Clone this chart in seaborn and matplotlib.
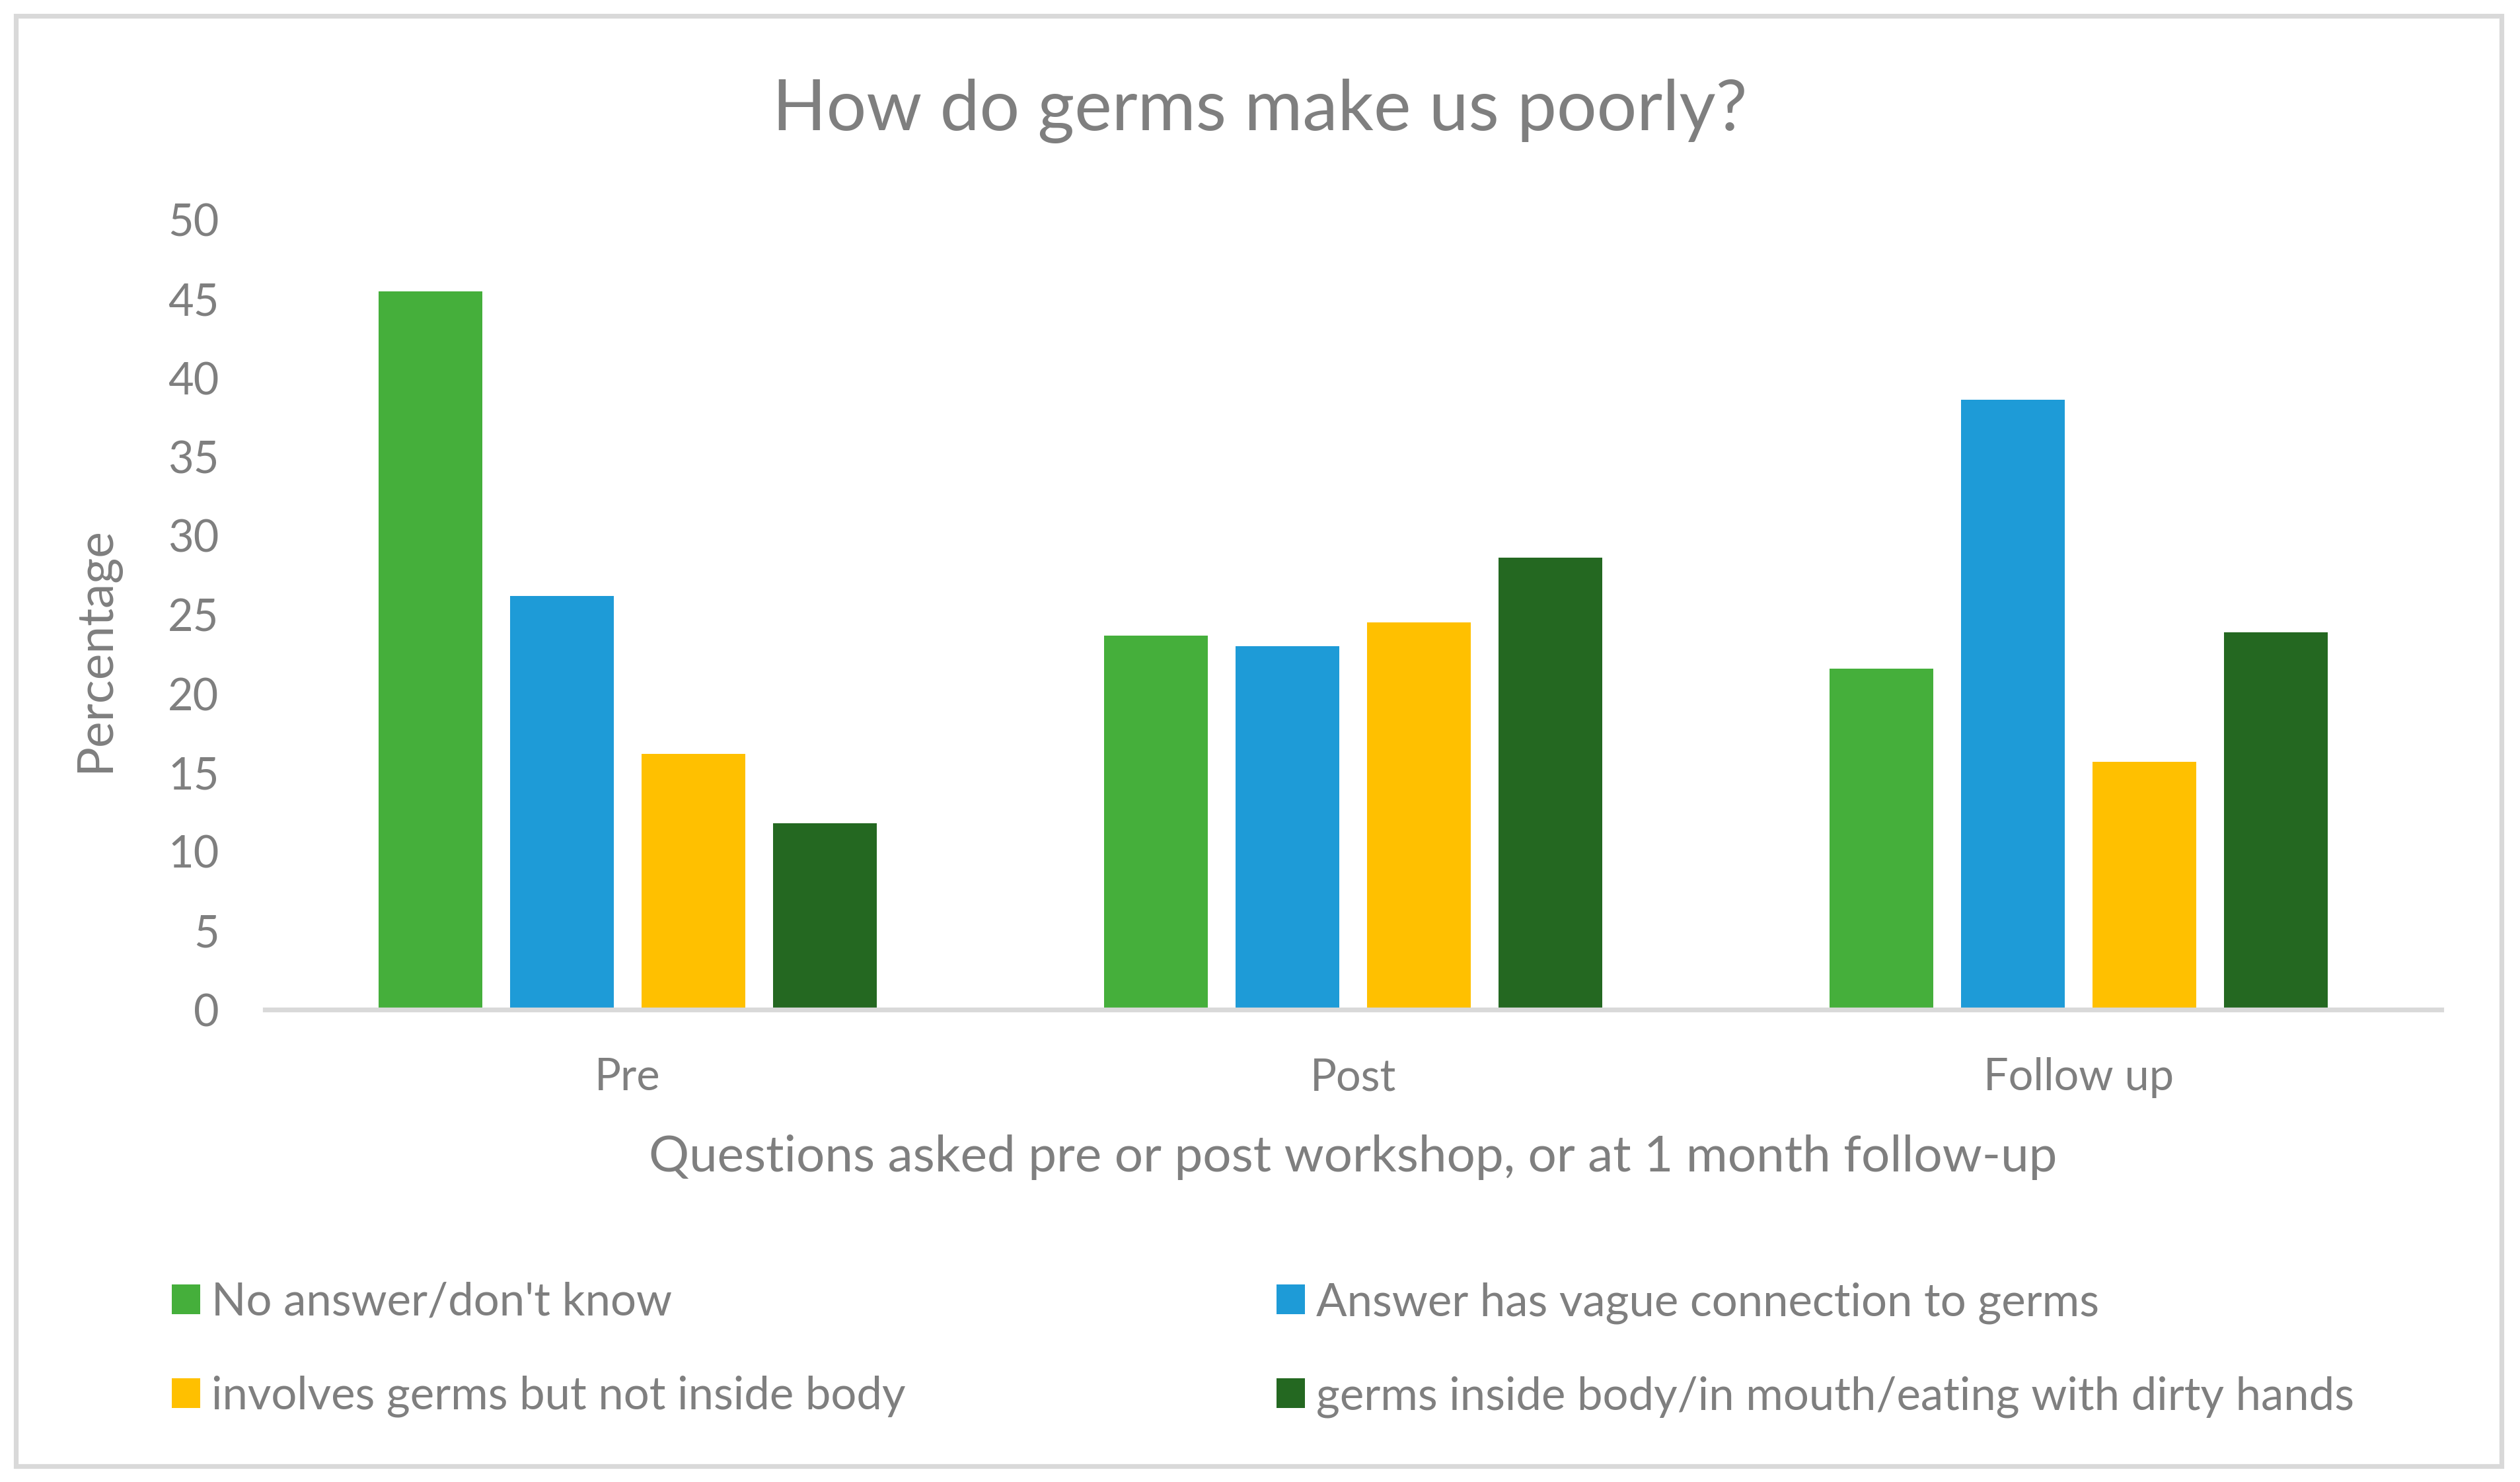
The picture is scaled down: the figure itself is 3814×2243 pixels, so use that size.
import matplotlib
matplotlib.use("Agg")
import matplotlib.pyplot as plt
import seaborn as sns
import pandas as pd
from matplotlib.patches import Rectangle

# ---- data ----
stages = ["Pre", "Post", "Follow up"]
categories = [
    "No answer/don't know",
    "Answer has vague connection to germs",
    "involves germs but not inside body",
    "germs inside body/in mouth/eating with dirty hands",
]
no_answer = [45.5, 23.7, 21.6]
vague_connection = [26.2, 23.0, 38.6]
not_inside_body = [16.2, 24.5, 15.7]
inside_body = [11.8, 28.6, 23.9]
colors = ["#45AF3B", "#1E9BD7", "#FFC000", "#246821"]

series = [no_answer, vague_connection, not_inside_body, inside_body]
rows = []
for cat, vals in zip(categories, series):
    for st, v in zip(stages, vals):
        rows.append({"Stage": st, "Category": cat, "Percentage": v})
df = pd.DataFrame(rows)

sns.set_theme(style="white")
plt.rcParams["font.family"] = ["Lato", "DejaVu Sans"]

W, H, DPI = 3814, 2243, 200
TXT = "#7F7F7F"
fig = plt.figure(figsize=(W / DPI, H / DPI), dpi=DPI)
fig.patch.set_facecolor("white")

ax = fig.add_axes([401 / W, 1 - 1528 / H, 3294 / W, 1195 / H])
sns.barplot(data=df, x="Stage", y="Percentage", hue="Category",
            order=stages, hue_order=categories, palette=colors,
            saturation=1, width=0.725, gap=0.21, errorbar=None,
            linewidth=0, ax=ax)

ax.set_xlim(-0.5, 2.5)
ax.set_ylim(0, 50)
ax.set_yticks(range(0, 51, 5))
for s in ["top", "right", "left"]:
    ax.spines[s].set_visible(False)
ax.spines["bottom"].set_color("#D9D9D9")
ax.spines["bottom"].set_linewidth(2.6)
ax.tick_params(axis="both", length=0, labelsize=24, labelcolor=TXT)
ax.tick_params(axis="y", pad=25)
ax.tick_params(axis="x", pad=26)

ax.set_xlabel("Questions asked pre or post workshop, or at 1 month follow-up",
              fontsize=27.5, color=TXT)
ax.set_ylabel("Percentage", fontsize=27, color=TXT)
ax.xaxis.set_label_coords(0.5, (1528 - 1751) / 1195)
ax.xaxis.label.set_va("center")
ax.yaxis.set_label_coords((146 - 401) / 3294, 0.456)
ax.yaxis.label.set_va("center")

# title
fig.text(0.5, 1 - 197 / H, "How do germs make us poorly?", ha="center",
         va="baseline", fontsize=38.5, color=TXT)

# legend
leg = ax.get_legend()
handles = leg.legend_handles
labels = [t.get_text() for t in leg.texts]
leg.remove()

common = dict(loc="upper left", frameon=False, fontsize=24.8,
              labelcolor=TXT, handlelength=0.62, handleheight=0.62,
              handletextpad=0.25, labelspacing=1.14, borderpad=0,
              borderaxespad=0)
fig.legend([handles[0], handles[2]], [labels[0], labels[2]],
           bbox_to_anchor=(260 / W, 1 - 1940 / H), **common)
fig.legend([handles[1], handles[3]], [labels[1], labels[3]],
           bbox_to_anchor=(1932 / W, 1 - 1940 / H), **common)

# chart border
fig.patches.append(Rectangle((24 / W, 1 - 2219 / H), (3786 - 24) / W,
                             (2219 - 24) / H, transform=fig.transFigure,
                             fill=False, edgecolor="#D9D9D9", linewidth=2.6))

fig.savefig("out.png", dpi=DPI, facecolor="white")
